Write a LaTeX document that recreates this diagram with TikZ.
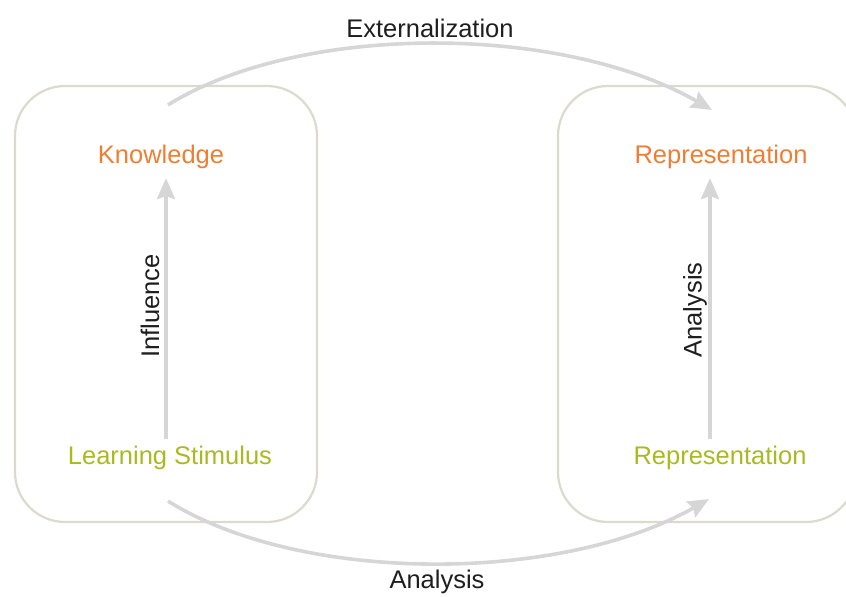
\documentclass[tikz,border=0pt]{standalone}
\usepackage{fontspec}
\setmainfont{Liberation Sans}
\usetikzlibrary{arrows.meta,calc}
\definecolor{boxline}{RGB}{220,218,204}
\definecolor{arrowgray}{RGB}{214,214,214}
\definecolor{kworange}{RGB}{239,126,52}
\definecolor{stimgreen}{RGB}{170,186,30}
\definecolor{labelink}{RGB}{30,30,30}
\tikzset{
  groupbox/.style={draw=boxline, line width=2.2pt, rounded corners=50pt},
  topterm/.style={text=kworange, font=\fontsize{25.5}{30}\selectfont, inner sep=3pt},
  baseterm/.style={text=stimgreen, font=\fontsize{25.5}{30}\selectfont, inner sep=3pt},
  flowlabel/.style={text=labelink, font=\fontsize{25.5}{30}\selectfont, inner sep=0pt},
  flow/.style={draw=arrowgray, line width=3.6pt,
    -{Stealth[length=21pt,width=18pt,inset=3pt]}},
}
\begin{document}
\begin{tikzpicture}[x=1pt,y=-1pt]
  \useasboundingbox (0,0) rectangle (846,597);

  % the two groups
  \draw[groupbox] (15,86) rectangle (317,522);
  \draw[groupbox] (558,86) rectangle (856,522);

  % terms inside the groups
  \node[topterm]  (know)  at (161,157) {Knowledge};
  \node[baseterm] (stim)  at (170,458) {Learning Stimulus};
  \node[topterm]  (repT)  at (721,157) {Representation};
  \node[baseterm] (repB)  at (720,458) {Representation};

  % vertical links within each group
  \draw[flow] ([xshift=-4pt,yshift=4pt]stim.north) -- ([xshift=5pt,yshift=-6pt]know.south);
  \draw[flow] ([xshift=-10pt,yshift=4pt]repB.north) -- ([xshift=-11pt,yshift=-6pt]repT.south);

  \node[flowlabel, rotate=90] (lblInfl) at (150,306) {Influence};
  \node[flowlabel, rotate=90] (lblAnaR) at (695,310) {Analysis};

  % arcs between the groups
  \coordinate (extFrom) at ([xshift=7pt,yshift=37pt]know.north);
  \coordinate (extTo)   at ([xshift=-9pt,yshift=32pt]repT.north);
  \draw[flow] (extFrom) .. controls (300,23) and (560,23) .. (extTo);

  \coordinate (anaFrom) at ([xshift=-2pt,yshift=-28pt]stim.south);
  \coordinate (anaTo)   at ([xshift=-11pt,yshift=-26pt]repB.south);
  \draw[flow] (anaFrom) .. controls (300,584) and (560,584) .. (anaTo);

  \node[flowlabel] (lblExt) at (430,28) {Externalization};
  \node[flowlabel] (lblAna) at (437,582) {Analysis};
\end{tikzpicture}
\end{document}
